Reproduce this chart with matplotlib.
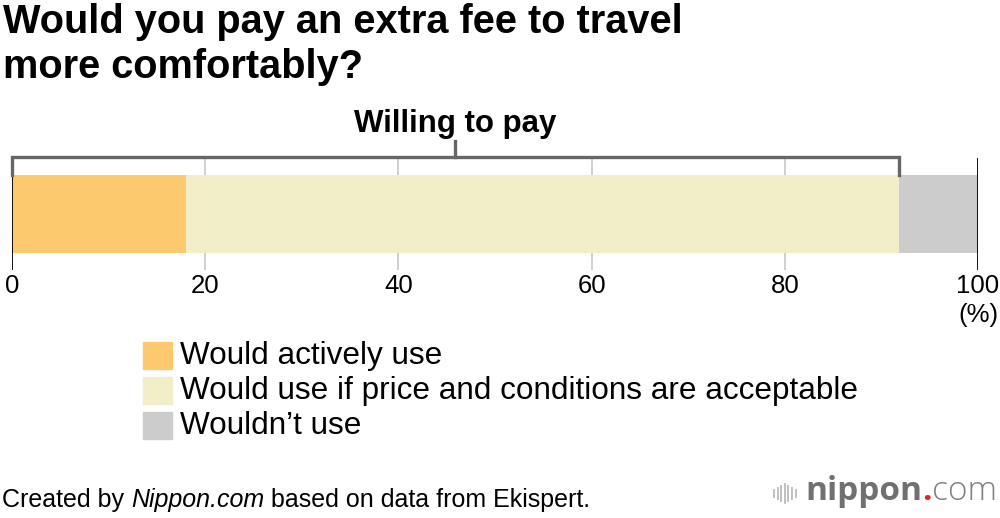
import matplotlib
matplotlib.use("Agg")
import matplotlib.pyplot as plt
from matplotlib.patches import Rectangle

plt.rcParams['font.family'] = ['Liberation Sans', 'DejaVu Sans']

# data
categories = ["Would actively use",
              "Would use if price and conditions are acceptable",
              "Wouldn\u2019t use"]
values = [18.0, 73.8, 8.2]
colors = ["#FCC96E", "#F2EEC7", "#CCCCCC"]
ticks = [0, 20, 40, 60, 80, 100]
bracket_label = "Willing to pay"
title_lines = ["Would you pay an extra fee to travel", "more comfortably?"]

W, H = 1000, 518
fig = plt.figure(figsize=(W / 100, H / 100), dpi=100)

def fx(px):
    return px / W

def fy(py):
    return 1 - py / H

# bar axes
ax = fig.add_axes([fx(12), fy(270), fx(978) - fx(12), fy(158) - fy(270)])
left = 0
for v, c, lab in zip(values, colors, categories):
    ax.barh(0, v, left=left, height=1, color=c, label=lab, zorder=2)
    left += v
ax.set_xlim(0, 100)
ax.set_ylim(-0.718, 0.718)
for t in ticks:
    if t in (0, 100):
        ax.axvline(t, color="black", lw=1.3, zorder=3)
    else:
        ax.axvline(t, color="#CCCCCC", lw=1.3, zorder=1)
ax.set_xticks([])
ax.set_yticks([])
for s in ax.spines.values():
    s.set_visible(False)
ax.patch.set_alpha(0)

# tick labels
for t in ticks:
    ax.annotate(str(t), xy=(t, -0.718), xycoords="data", xytext=(0, -3),
                textcoords="offset points", ha="center", va="top", fontsize=18.5,
                annotation_clip=False)
ax.annotate("(%)", xy=(100, -0.718), xycoords="data", xytext=(0, -24),
            textcoords="offset points", ha="center", va="top", fontsize=18.5,
            annotation_clip=False)

# bracket over "willing to pay"
willing = values[0] + values[1]
bc = "#666666"
ax.plot([0, 0, willing, willing], [0.5, 0.73, 0.73, 0.5], color=bc, lw=2.4,
        clip_on=False, solid_joinstyle="miter", zorder=4)
ax.plot([willing / 2, willing / 2], [0.73, 0.93], color=bc, lw=2.4,
        clip_on=False, zorder=4)
ax.annotate(bracket_label, xy=(willing / 2, 0.93), xycoords="data", xytext=(0, 2),
            textcoords="offset points", ha="center", va="bottom",
            fontsize=22.5, fontweight="bold", annotation_clip=False)

# legend
for i, (lab, c) in enumerate(zip(categories, colors)):
    top = 342 + i * 35
    fig.patches.append(Rectangle((fx(143), fy(top + 27)), fx(29), fy(top) - fy(top + 27),
                                 transform=fig.transFigure, color=c))
    fig.text(fx(180), fy(top + 14), lab, ha="left", va="center", fontsize=22.7)

# title
for i, line in enumerate(title_lines):
    fig.text(fx(3), fy(33 + i * 45), line, ha="left", va="baseline",
             fontsize=28.6, fontweight="bold")

# footer
fig.canvas.draw()
r = fig.canvas.get_renderer()
x = fx(2)
parts = [("Created by ", "normal"), ("Nippon.com", "italic"), (" based on data from Ekispert.", "normal")]
for txt, st in parts:
    t = fig.text(x, fy(506.5), txt, ha="left", va="baseline", fontsize=18, style=st)
    bb = t.get_window_extent(renderer=r)
    x += bb.width / W

# logo
bar_h = [7, 11, 15, 19, 15, 11, 7]
for k, hh in enumerate(bar_h):
    xx = 774 + k * 3.6
    fig.lines.append(plt.Line2D([fx(xx), fx(xx)], [fy(493 + hh / 2), fy(493 - hh / 2)],
                                transform=fig.transFigure, color="#BBBBBB", lw=1.3))
x = fx(805)
for txt, col, wt in [("nippon", "#707070", "bold"), (".", "#E8202A", "bold"), ("com", "#808080", "light")]:
    t = fig.text(x, fy(491), txt, ha="left", va="center", fontsize=24, color=col,
                 fontweight=wt, family=["Open Sans", "DejaVu Sans"])
    bb = t.get_window_extent(renderer=r)
    x += bb.width / W

fig.savefig("out.png", dpi=100)
